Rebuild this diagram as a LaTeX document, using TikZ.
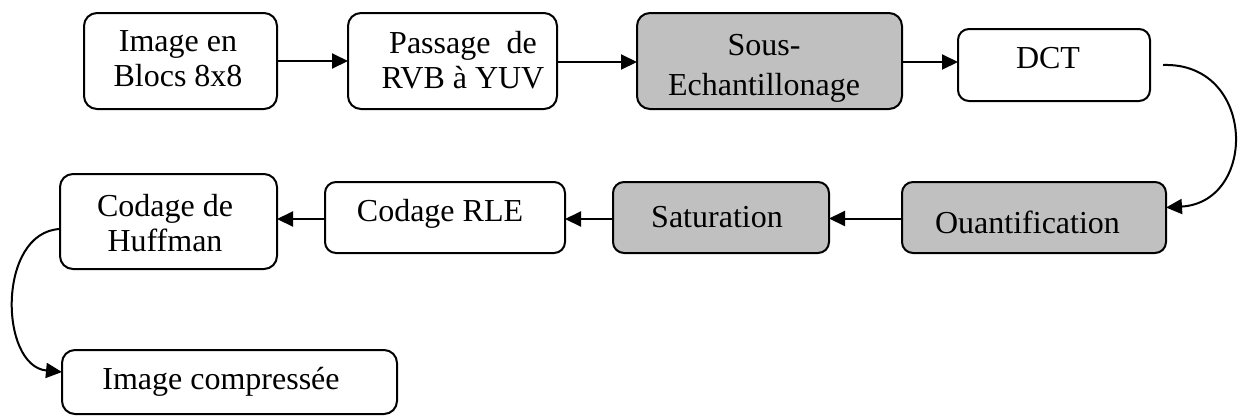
\documentclass[tikz,border=0pt]{standalone}
\usepackage{fontspec}
\setmainfont{Liberation Serif}
\usetikzlibrary{arrows.meta}
\begin{document}
\begin{tikzpicture}[x=1pt,y=-1pt,
  stage/.style={draw=black, line width=2pt, rounded corners=13pt, fill=white,
    inner sep=0pt, outer sep=0pt},
  shaded/.style={stage, fill=boxgray},
  label/.style={font=\fontsize{32}{35}\selectfont, align=center, anchor=north,
    inner sep=0pt, outer sep=0pt},
  flow/.style={line width=2pt, -{Triangle[length=16pt,width=15pt]}}]
\definecolor{boxgray}{RGB}{192,192,192}
\useasboundingbox (0,0) rectangle (1240,416);

% top row
\node[stage, minimum width=193pt, minimum height=96pt] (blocs) at (180.5,61) {};
\node[stage, minimum width=209pt, minimum height=96pt] (rvb) at (452.5,61) {};
\node[shaded, minimum width=265pt, minimum height=96pt] (sous) at (769.5,61) {};
\node[stage, rounded corners=11pt, minimum width=192pt, minimum height=72pt] (dct) at (1054,65) {};

% second row
\node[shaded, rounded corners=11pt, minimum width=264pt, minimum height=71pt] (quant) at (1034,217.5) {};
\node[shaded, rounded corners=11pt, minimum width=216pt, minimum height=71pt] (sat) at (721,217.5) {};
\node[stage, rounded corners=11pt, minimum width=240pt, minimum height=71pt] (rle) at (445,217.5) {};
\node[stage, minimum width=217pt, minimum height=95pt] (huff) at (168.5,221.5) {};

% output
\node[stage, minimum width=335pt, minimum height=64pt] (out) at (229.5,382) {};

% labels
\node[label] (tblocs) at (178,31) {Image en\\Blocs 8x8};
\node[label] (trvb) at (463,31) {Passage\ \ de\\RVB à YUV};
\node[label, font=\fontsize{32}{40}\selectfont] (tsous) at (764,34) {Sous-\\Echantillonage};
\node[label] (tdct) at (1048,47) {DCT};
\node[label] (tquant) at (1027.5,211) {Ouantification};
\node[label] (tsat) at (717,206) {Saturation};
\node[label] (trle) at (440,199) {Codage RLE};
\node[label] (thuff) at (165,194) {Codage de\\Huffman};
\node[label] (tout) at (221,367) {Image compressée};

% straight connectors
\draw[flow] (blocs.east) -- (blocs.east -| rvb.west);
\draw[flow] ([yshift=-1pt]rvb.east) -- ([yshift=-1pt]rvb.east -| sous.west);
\draw[flow] ([yshift=-1pt]sous.east) -- ([yshift=-1pt]sous.east -| dct.west);
\draw[flow] ([yshift=-1pt]quant.west) -- ([yshift=-1pt]quant.west -| sat.east);
\draw[flow] ([yshift=-1.5pt]sat.west) -- ([yshift=-1.5pt]sat.west -| rle.east);
\draw[flow] ([yshift=-1.5pt]rle.west) -- ([yshift=-1.5pt]rle.west -| huff.east);

% curved connectors
\coordinate (dctout) at (1163,65);
\draw[flow] (dctout) .. controls (1256,62) and (1258,202) .. ([yshift=10pt]quant.east);
\draw[flow] ([yshift=-7.5pt]huff.west) .. controls (-3,232) and (-1,366) .. ([yshift=10pt]out.west);
\end{tikzpicture}
\end{document}
